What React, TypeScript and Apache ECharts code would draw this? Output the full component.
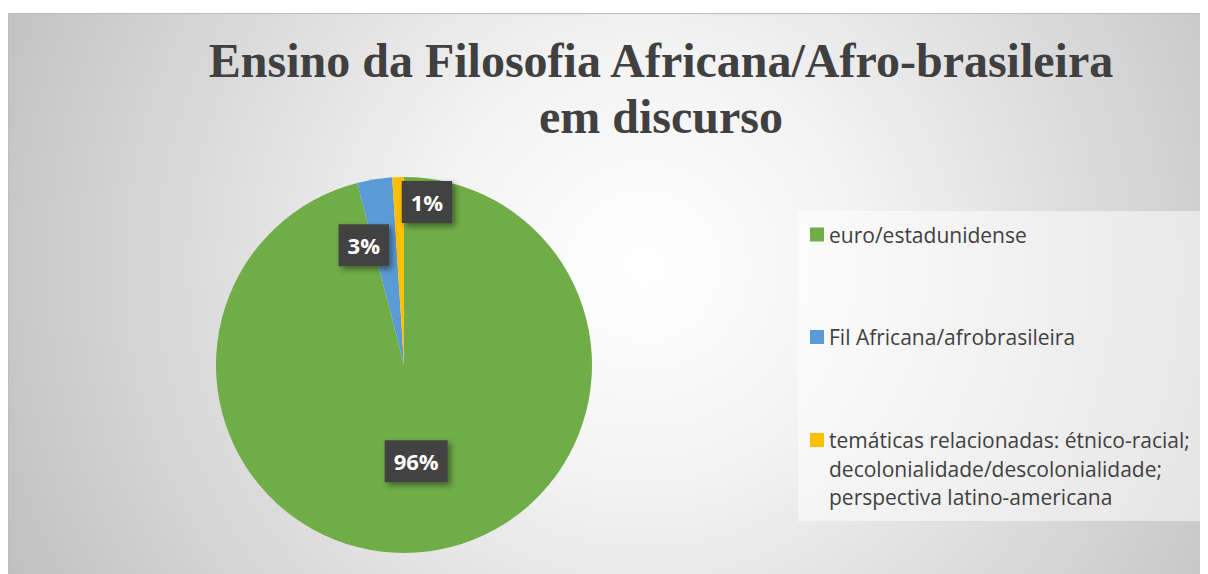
import React, { useEffect, useRef } from "react";
import * as echarts from "echarts";

const titleLines = ["Ensino da Filosofia Africana/Afro-brasileira", "em discurso"];
const categories = [
  "euro/estadunidense",
  "Fil Africana/afrobrasileira",
  "temáticas relacionadas: étnico-racial; decolonialidade/descolonialidade; perspectiva latino-americana",
];
const legendLabels = [
  "euro/estadunidense",
  "Fil Africana/afrobrasileira",
  "temáticas relacionadas: étnico-racial;\ndecolonialidade/descolonialidade;\nperspectiva latino-americana",
];
const values = [96, 3, 1];
const colors = ["#70ad47", "#5b9bd5", "#ffc000"];

// label nudges (px) relative to the 'inside' position
const labelNudge = [
  [0, 0],
  [-25, -24],
  [26, -66],
];

export default function App() {
  const ref = useRef<HTMLDivElement>(null);
  useEffect(() => {
    if (!ref.current) return;
    const chart = echarts.init(ref.current, null, { renderer: "svg" });
    const legendText = {
      fontFamily: "Open Sans",
      fontSize: 21,
      color: "#404040",
      lineHeight: 28.5,
    };
    // centre of each legend icon (chart coords)
    const legendCentres = [220.5, 323, 426];
    const legends = categories.map((c, i) => {
      const lbl = legendLabels[i];
      const nLines = lbl.split("\n").length;
      // pad with blank lines above so the icon sits on the first line
      const padded = "\n".repeat(nLines - 1) + lbl;
      const totalLines = 2 * nLines - 1;
      return {
        data: [c],
        left: 801,
        top: legendCentres[i] - (totalLines * 28.5) / 2,
        padding: 0,
        icon: "rect",
        itemWidth: 14,
        itemHeight: 14,
        selectedMode: false,
        formatter: () => padded,
        textStyle: legendText,
      };
    });
    chart.setOption({
      animation: false,
      backgroundColor: "transparent",
      title: {
        text: titleLines.join("\n"),
        left: 652,
        top: 18,
        padding: 0,
        textAlign: "center",
        textStyle: {
          fontFamily: "Liberation Serif",
          fontWeight: "bold",
          fontSize: 48,
          lineHeight: 56,
          color: "#404040",
        },
      },
      graphic: [
        {
          type: "rect",
          shape: { x: 789, y: 197, width: 405, height: 310 },
          style: { fill: "rgba(255,255,255,0.5)" },
          silent: true,
        },
      ],
      legend: legends,
      series: [
        {
          type: "pie",
          center: [395, 351],
          radius: 188,
          startAngle: 90,
          clockwise: true,
          avoidLabelOverlap: false,
          itemStyle: { borderWidth: 0 },
          emphasis: { disabled: true },
          label: {
            show: true,
            position: "inside",
            formatter: "{c}%",
            color: "#ffffff",
            fontFamily: "Open Sans",
            fontWeight: "bold",
            fontSize: 22,
            lineHeight: 26,
            backgroundColor: "#434343",
            padding: [8, 9],
            shadowColor: "rgba(0,0,0,0.45)",
            shadowBlur: 6,
            shadowOffsetX: 3,
            shadowOffsetY: 3,
          },
          labelLine: { show: false },
          labelLayout: (p: any) => ({
            dx: labelNudge[p.dataIndex][0],
            dy: labelNudge[p.dataIndex][1],
          }),
          data: categories.map((c, i) => ({
            name: c,
            value: values[i],
            itemStyle: { color: colors[i] },
          })),
        },
      ],
    });
    return () => chart.dispose();
  }, []);
  return (
    <div style={{ paddingTop: 5 }}>
      <div
        style={{
          width: 1200,
          height: 561,
          boxSizing: "border-box",
          borderTop: "1px solid #bdbdbd",
          borderLeft: "1px solid #bdbdbd",
          background:
            "radial-gradient(circle at 53% 45%, #ffffff 0%, #f3f3f3 30%, #dadada 65%, #c0c0c0 100%)",
        }}
      >
        <div ref={ref} style={{ width: "100%", height: "100%" }} />
      </div>
    </div>
  );
}
